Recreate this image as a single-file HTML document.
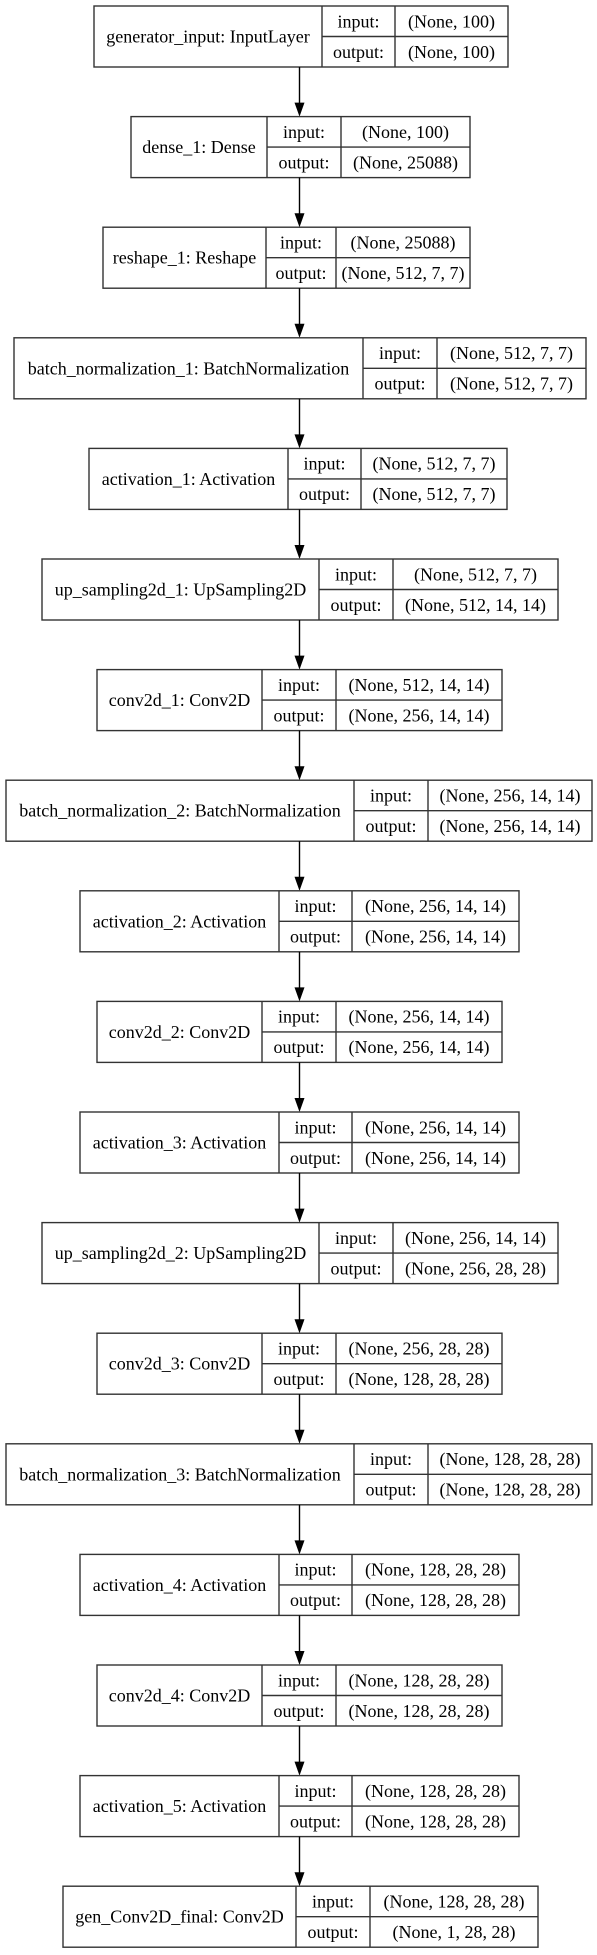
<!DOCTYPE html>
<html><head><meta charset="utf-8">
<style>
html,body{margin:0;padding:0;background:#fff;}
svg{display:block;}
text{font-family:"Liberation Serif",serif;font-size:18px;fill:#000;}
</style></head>
<body>
<svg id="chart" width="597" height="1955" viewBox="0 0 597 1955" xmlns="http://www.w3.org/2000/svg"></svg>
<script>
const layerNames = ["generator_input: InputLayer","dense_1: Dense","reshape_1: Reshape","batch_normalization_1: BatchNormalization","activation_1: Activation","up_sampling2d_1: UpSampling2D","conv2d_1: Conv2D","batch_normalization_2: BatchNormalization","activation_2: Activation","conv2d_2: Conv2D","activation_3: Activation","up_sampling2d_2: UpSampling2D","conv2d_3: Conv2D","batch_normalization_3: BatchNormalization","activation_4: Activation","conv2d_4: Conv2D","activation_5: Activation","gen_Conv2D_final: Conv2D"];
const inputShapes = ["(None, 100)","(None, 100)","(None, 25088)","(None, 512, 7, 7)","(None, 512, 7, 7)","(None, 512, 7, 7)","(None, 512, 14, 14)","(None, 256, 14, 14)","(None, 256, 14, 14)","(None, 256, 14, 14)","(None, 256, 14, 14)","(None, 256, 14, 14)","(None, 256, 28, 28)","(None, 128, 28, 28)","(None, 128, 28, 28)","(None, 128, 28, 28)","(None, 128, 28, 28)","(None, 128, 28, 28)"];
const outputShapes = ["(None, 100)","(None, 25088)","(None, 512, 7, 7)","(None, 512, 7, 7)","(None, 512, 7, 7)","(None, 512, 14, 14)","(None, 256, 14, 14)","(None, 256, 14, 14)","(None, 256, 14, 14)","(None, 256, 14, 14)","(None, 256, 14, 14)","(None, 256, 28, 28)","(None, 128, 28, 28)","(None, 128, 28, 28)","(None, 128, 28, 28)","(None, 128, 28, 28)","(None, 128, 28, 28)","(None, 1, 28, 28)"];
// box geometry: left, divider1, divider2, right
const boxGeom = [[94,322,395,508],[131,267,341,470],[103,266,336,470],[14,363,437,586],[89,288,361,507],[42,319,393,558],[97,262,336,502],[6,354,428,592],[80,279,352,519],[97,262,336,502],[80,279,352,519],[42,319,393,558],[97,262,336,502],[6,354,428,592],[80,279,352,519],[97,262,336,502],[80,279,352,519],[63,296,370,538]];
const NS="http://www.w3.org/2000/svg";
const svg=document.getElementById('chart');
const top0=6, step=110.6, H=61, cx=299.5;
function mk(tag,attrs,parent){const e=document.createElementNS(NS,tag);for(const k in attrs)e.setAttribute(k,attrs[k]);parent.appendChild(e);return e;}
layerNames.forEach((name,i)=>{
  const [l,d1,d2,r]=boxGeom[i];
  const y=top0+i*step;
  const g=mk('g',{},svg);
  
  
  const st={fill:'none',stroke:'#333','stroke-width':1.4};
  mk('rect',Object.assign({x:l,y:y,width:r-l,height:H},st),g);
  mk('line',Object.assign({x1:d1,y1:y,x2:d1,y2:y+H},st),g);
  mk('line',Object.assign({x1:d2,y1:y,x2:d2,y2:y+H},st),g);
  mk('line',Object.assign({x1:d1,y1:y+H/2,x2:r,y2:y+H/2},st),g);
  const t1=mk('text',{x:(l+d1)/2,y:y+H/2+6,'text-anchor':'middle'},g);t1.textContent=name;
  
  
  const t2=mk('text',{x:(d1+d2)/2,y:y+H/4+6,'text-anchor':'middle'},g);t2.textContent='input:';
  
  
  const t3=mk('text',{x:(d1+d2)/2,y:y+3*H/4+6,'text-anchor':'middle'},g);t3.textContent='output:';
  
  
  const t4=mk('text',{x:(d2+r)/2,y:y+H/4+6,'text-anchor':'middle'},g);t4.textContent=inputShapes[i];
  
  
  const t5=mk('text',{x:(d2+r)/2,y:y+3*H/4+6,'text-anchor':'middle'},g);t5.textContent=outputShapes[i];
  
  
  if(i<layerNames.length-1){
    const y1=y+H, y2=top0+(i+1)*step;
    const a=mk('g',{},svg);
    
    
    mk('line',{x1:cx,y1:y1,x2:cx,y2:y2-13,stroke:'#000','stroke-width':1.4},a);
    mk('polygon',{points:`${cx-5},${y2-14} ${cx+5},${y2-14} ${cx},${y2}`,fill:'#000'},a);
  }
});
</script>
</body></html>
